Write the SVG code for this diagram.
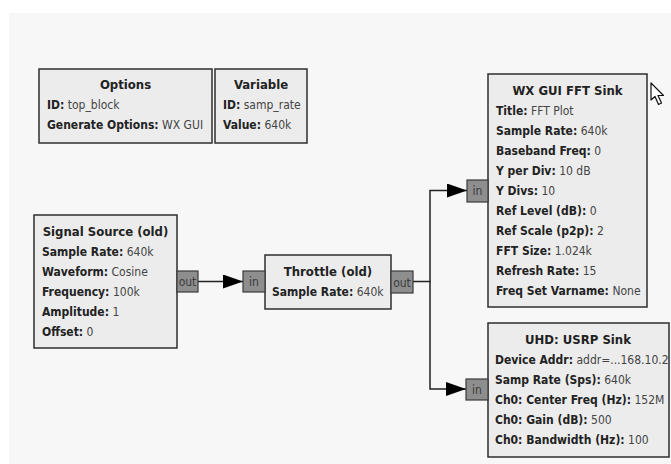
<svg xmlns="http://www.w3.org/2000/svg" width="671" height="464" viewBox="0 0 671 464">
<style>
.blk{fill:#ececec;stroke:#2e2e2e;stroke-width:1.5}
.port{fill:#8e8e8e;stroke:#3a3a3a;stroke-width:1.2}
.pt{font-family:"DejaVu Sans Condensed","DejaVu Sans",sans-serif;font-stretch:condensed;font-size:12px;fill:#3c3c3c}
.t{font-family:"DejaVu Sans Condensed","DejaVu Sans",sans-serif;font-stretch:condensed;font-size:12px;fill:#222}
.h{font-weight:bold;text-anchor:middle;font-size:13px}
.b{font-weight:bold}
.v{fill:#444}
.wire{fill:none;stroke:#222;stroke-width:1.5}
</style>
<defs>
<marker id="arr" markerUnits="userSpaceOnUse" markerWidth="22" markerHeight="16" refX="20" refY="7" orient="auto">
<path d="M0,0 L20,7 L0,14 Z" fill="#000"/>
</marker>
</defs>
<rect x="0" y="0" width="671" height="464" fill="#fff"/>
<rect x="9" y="13" width="662" height="451" fill="#f7f7f7"/>

<g id="connectors">
<path class="wire" d="M198,281.5 H243" marker-end="url(#arr)"/>
<path class="wire" d="M413,281.5 H430 V190.5 H467" marker-end="url(#arr)"/>
<path class="wire" d="M430,281.5 V389 H466" marker-end="url(#arr)"/>
</g>

<g id="options">
<rect class="blk" x="39" y="69" width="173" height="74"/>
<text class="t h" x="125.5" y="89">Options</text>
<text class="t" x="47" y="109"><tspan class="b">ID:</tspan> <tspan class="v">top_block</tspan></text>
<text class="t" x="47" y="129"><tspan class="b">Generate Options:</tspan> <tspan class="v">WX GUI</tspan></text>
</g>

<g id="variable">
<rect class="blk" x="215" y="69" width="92" height="74"/>
<text class="t h" x="261" y="89">Variable</text>
<text class="t" x="223" y="109"><tspan class="b">ID:</tspan> <tspan class="v">samp_rate</tspan></text>
<text class="t" x="223" y="129"><tspan class="b">Value:</tspan> <tspan class="v">640k</tspan></text>
</g>

<g id="signal_source">
<rect class="blk" x="34" y="215" width="143" height="133"/>
<text class="t h" x="105.5" y="236">Signal Source (old)</text>
<text class="t" x="42" y="256"><tspan class="b">Sample Rate:</tspan> <tspan class="v">640k</tspan></text>
<text class="t" x="42" y="276"><tspan class="b">Waveform:</tspan> <tspan class="v">Cosine</tspan></text>
<text class="t" x="42" y="296"><tspan class="b">Frequency:</tspan> <tspan class="v">100k</tspan></text>
<text class="t" x="42" y="316"><tspan class="b">Amplitude:</tspan> <tspan class="v">1</tspan></text>
<text class="t" x="42" y="336"><tspan class="b">Offset:</tspan> <tspan class="v">0</tspan></text>
<rect class="port" x="177" y="271" width="21" height="21"/>
<text class="pt" x="187.5" y="286" text-anchor="middle">out</text>
</g>

<g id="throttle">
<rect class="blk" x="265" y="255" width="126" height="54"/>
<text class="t h" x="328" y="276">Throttle (old)</text>
<text class="t" x="272" y="296"><tspan class="b">Sample Rate:</tspan> <tspan class="v">640k</tspan></text>
<rect class="port" x="243" y="271" width="22" height="21"/>
<text class="pt" x="254" y="286" text-anchor="middle">in</text>
<rect class="port" x="391" y="271" width="22" height="22"/>
<text class="pt" x="402" y="286.5" text-anchor="middle">out</text>
</g>

<g id="fft_sink">
<rect class="blk" x="488" y="74" width="159" height="233"/>
<text class="t h" x="567.5" y="95">WX GUI FFT Sink</text>
<text class="t" x="496" y="115"><tspan class="b">Title:</tspan> <tspan class="v">FFT Plot</tspan></text>
<text class="t" x="496" y="135"><tspan class="b">Sample Rate:</tspan> <tspan class="v">640k</tspan></text>
<text class="t" x="496" y="155"><tspan class="b">Baseband Freq:</tspan> <tspan class="v">0</tspan></text>
<text class="t" x="496" y="175"><tspan class="b">Y per Div:</tspan> <tspan class="v">10 dB</tspan></text>
<text class="t" x="496" y="195"><tspan class="b">Y Divs:</tspan> <tspan class="v">10</tspan></text>
<text class="t" x="496" y="215"><tspan class="b">Ref Level (dB):</tspan> <tspan class="v">0</tspan></text>
<text class="t" x="496" y="235"><tspan class="b">Ref Scale (p2p):</tspan> <tspan class="v">2</tspan></text>
<text class="t" x="496" y="255"><tspan class="b">FFT Size:</tspan> <tspan class="v">1.024k</tspan></text>
<text class="t" x="496" y="275"><tspan class="b">Refresh Rate:</tspan> <tspan class="v">15</tspan></text>
<text class="t" x="496" y="295"><tspan class="b">Freq Set Varname:</tspan> <tspan class="v">None</tspan></text>
<rect class="port" x="467" y="180" width="21" height="22"/>
<text class="pt" x="477.5" y="195" text-anchor="middle">in</text>
</g>

<g id="usrp_sink">
<rect class="blk" x="488" y="323" width="181" height="134"/>
<text class="t h" x="578" y="344">UHD: USRP Sink</text>
<text class="t" x="495" y="364"><tspan class="b">Device Addr:</tspan> <tspan class="v">addr=...168.10.2</tspan></text>
<text class="t" x="495" y="384"><tspan class="b">Samp Rate (Sps):</tspan> <tspan class="v">640k</tspan></text>
<text class="t" x="495" y="404"><tspan class="b">Ch0: Center Freq (Hz):</tspan> <tspan class="v">152M</tspan></text>
<text class="t" x="495" y="424"><tspan class="b">Ch0: Gain (dB):</tspan> <tspan class="v">500</tspan></text>
<text class="t" x="495" y="444"><tspan class="b">Ch0: Bandwidth (Hz):</tspan> <tspan class="v">100</tspan></text>
<rect class="port" x="466" y="379" width="22" height="21"/>
<text class="pt" x="477" y="394" text-anchor="middle">in</text>
</g>

<path d="M651,83 L651,100 L655,96.5 L658.5,104.5 L661.5,103 L658,95.5 L663.5,95.5 Z" fill="#fff" stroke="#111" stroke-width="1.2" stroke-linejoin="round"/>
</svg>
